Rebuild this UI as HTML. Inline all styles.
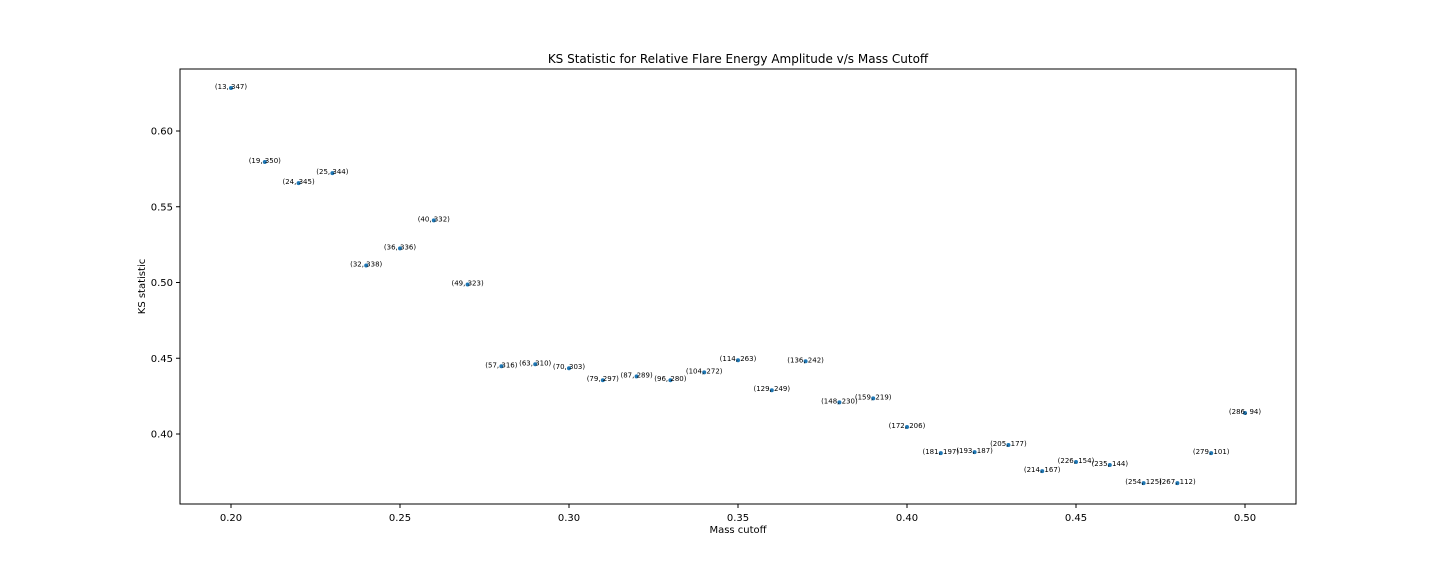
<!DOCTYPE html>
<html><head><meta charset="utf-8"><style>
body{margin:0;background:#fff;}
svg{font-family:"DejaVu Sans","Liberation Sans",sans-serif;}
</style></head><body>
<svg id="chart" width="1440" height="576"></svg>
<script>
const massCutoffs=[0.20,0.21,0.22,0.23,0.24,0.25,0.26,0.27,0.28,0.29,0.30,0.31,0.32,0.33,0.34,0.35,0.36,0.37,0.38,0.39,0.40,0.41,0.42,0.43,0.44,0.45,0.46,0.47,0.48,0.49,0.50];
const ksValues=[0.6284,0.5795,0.5656,0.5722,0.5112,0.5225,0.541,0.4987,0.4447,0.446,0.4434,0.4355,0.438,0.4355,0.4407,0.4487,0.4289,0.448,0.4209,0.4235,0.4046,0.3874,0.388,0.3927,0.3755,0.3815,0.3795,0.3676,0.3676,0.3874,0.4139];
const pointLabels=["(13, 347)","(19, 350)","(24, 345)","(25, 344)","(32, 338)","(36, 336)","(40, 332)","(49, 323)","(57, 316)","(63, 310)","(70, 303)","(79, 297)","(87, 289)","(96, 280)","(104, 272)","(114, 263)","(129, 249)","(136, 242)","(148, 230)","(159, 219)","(172, 206)","(181, 197)","(193, 187)","(205, 177)","(214, 167)","(226, 154)","(235, 144)","(254, 125)","(267, 112)","(279, 101)","(286, 94)"];
const xTicks=[0.20,0.25,0.30,0.35,0.40,0.45,0.50];
const yTicks=[0.40,0.45,0.50,0.55,0.60];

const NS="http://www.w3.org/2000/svg";
const svg=document.getElementById('chart');
const L=180,R=1296,T=69,B=504;
function xs(v){return 231+(v-0.20)*(1245-231)/0.30;}
function ys(v){return 434-(v-0.40)*(434-131)/0.20;}
function mk(tag,attrs,parent){const e=document.createElementNS(NS,tag);for(const k in attrs)e.setAttribute(k,attrs[k]);(parent||svg).appendChild(e);return e;}

const frame=mk('rect',{x:L,y:T,width:R-L,height:B-T,fill:'none',stroke:'#000','stroke-width':1});



xTicks.forEach(t=>{
  const x=xs(t);
  const l=mk('line',{x1:x,x2:x,y1:B,y2:B+4,stroke:'#000'});
  
  
  const tx=mk('text',{x:x,y:B+17,'text-anchor':'middle','font-size':10});
  tx.textContent=t.toFixed(2);
  
  
});
yTicks.forEach(t=>{
  const y=ys(t);
  const l=mk('line',{x1:L-4,x2:L,y1:y,y2:y,stroke:'#000'});
  
  
  const tx=mk('text',{x:L-7,y:y+3.5,'text-anchor':'end','font-size':10});
  tx.textContent=t.toFixed(2);
  
  
});

massCutoffs.forEach((m,i)=>{
  const x=xs(m),y=ys(ksValues[i]);
  const c=mk('circle',{cx:x,cy:y,r:2,fill:'#1f77b4'});
  
  
  const tx=mk('text',{x:x,y:y+1,'text-anchor':'middle','font-size':7});
  tx.textContent=pointLabels[i];
  
  
});

const title=mk('text',{x:(L+R)/2,y:63,'text-anchor':'middle','font-size':12});
title.textContent='KS Statistic for Relative Flare Energy Amplitude v/s Mass Cutoff';


const xt=mk('text',{x:(L+R)/2,y:533,'text-anchor':'middle','font-size':10});
xt.textContent='Mass cutoff';


const yt=mk('text',{x:145,y:(T+B)/2,'text-anchor':'middle','font-size':10,transform:'rotate(-90 145 '+((T+B)/2)+')'});
yt.textContent='KS statistic';


</script>
</body></html>
